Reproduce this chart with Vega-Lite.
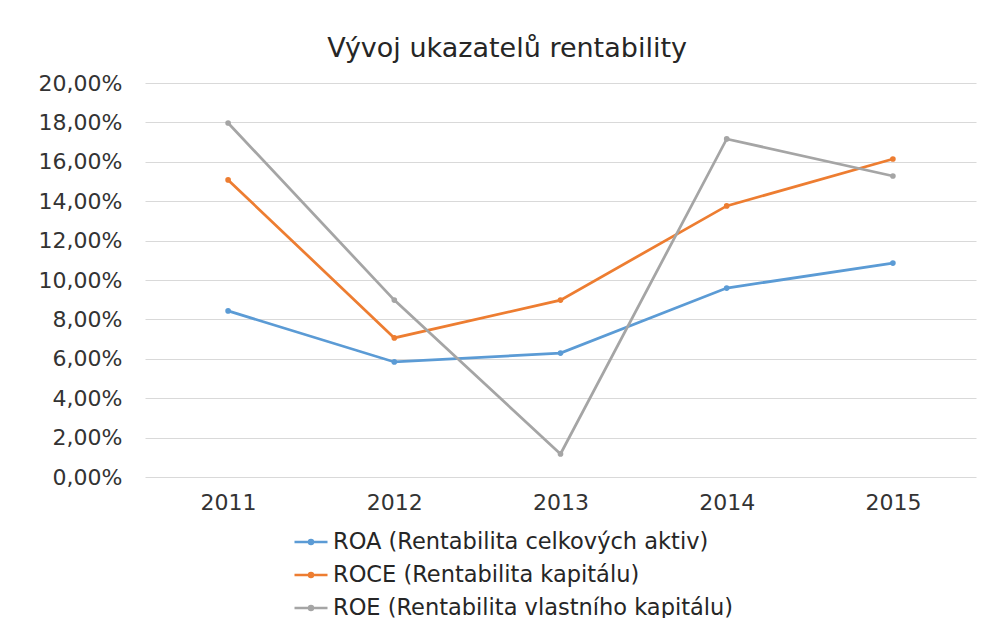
{
  "$schema": "https://vega.github.io/schema/vega-lite/v6.json",
  "width": 831,
  "height": 394,
  "autosize": {"type": "none"},
  "padding": {"left": 145, "top": 83, "right": 5, "bottom": 141},
  "background": "white",
  "title": {
    "text": "Vývoj ukazatelů rentability",
    "font": "DejaVu Sans",
    "fontSize": 27,
    "fontWeight": "normal",
    "color": "#262626",
    "anchor": "middle",
    "frame": "bounds",
    "offset": 9
  },
  "data": {
    "values": [
      {"year": "2011", "series": "ROA (Rentabilita celkových aktiv)", "value": 0.0843},
      {"year": "2012", "series": "ROA (Rentabilita celkových aktiv)", "value": 0.0584},
      {"year": "2013", "series": "ROA (Rentabilita celkových aktiv)", "value": 0.0629},
      {"year": "2014", "series": "ROA (Rentabilita celkových aktiv)", "value": 0.0959},
      {"year": "2015", "series": "ROA (Rentabilita celkových aktiv)", "value": 0.1086},
      {"year": "2011", "series": "ROCE (Rentabilita kapitálu)", "value": 0.1508},
      {"year": "2012", "series": "ROCE (Rentabilita kapitálu)", "value": 0.0706},
      {"year": "2013", "series": "ROCE (Rentabilita kapitálu)", "value": 0.0898},
      {"year": "2014", "series": "ROCE (Rentabilita kapitálu)", "value": 0.1376},
      {"year": "2015", "series": "ROCE (Rentabilita kapitálu)", "value": 0.1614},
      {"year": "2011", "series": "ROE (Rentabilita vlastního kapitálu)", "value": 0.1797},
      {"year": "2012", "series": "ROE (Rentabilita vlastního kapitálu)", "value": 0.0898},
      {"year": "2013", "series": "ROE (Rentabilita vlastního kapitálu)", "value": 0.0117},
      {"year": "2014", "series": "ROE (Rentabilita vlastního kapitálu)", "value": 0.1716},
      {"year": "2015", "series": "ROE (Rentabilita vlastního kapitálu)", "value": 0.1528}
    ]
  },
  "mark": {
    "type": "line",
    "strokeWidth": 2.75,
    "point": {"filled": true, "size": 32}
  },
  "encoding": {
    "x": {
      "field": "year",
      "type": "ordinal",
      "scale": {"type": "point", "padding": 0.5},
      "axis": {
        "title": null,
        "domain": false,
        "ticks": false,
        "grid": false,
        "labelAngle": 0,
        "labelFont": "DejaVu Sans",
        "labelFontSize": 22,
        "labelColor": "#333333",
        "labelPadding": 15
      }
    },
    "y": {
      "field": "value",
      "type": "quantitative",
      "scale": {"domain": [0, 0.2], "nice": false, "zero": true},
      "axis": {
        "title": null,
        "domain": false,
        "ticks": false,
        "values": [0, 0.02, 0.04, 0.06, 0.08, 0.1, 0.12, 0.14, 0.16, 0.18, 0.2],
        "labelExpr": "replace(format(datum.value, '.2%'), '.', ',')",
        "labelFont": "DejaVu Sans",
        "labelFontSize": 22,
        "labelColor": "#333333",
        "labelPadding": 23,
        "grid": true,
        "gridColor": "#d9d9d9",
        "gridWidth": 1
      }
    },
    "color": {
      "field": "series",
      "type": "nominal",
      "scale": {
        "domain": ["ROA (Rentabilita celkových aktiv)", "ROCE (Rentabilita kapitálu)", "ROE (Rentabilita vlastního kapitálu)"],
        "range": ["#5B9BD5", "#ED7D31", "#A5A5A5"]
      },
      "legend": {
        "title": null,
        "orient": "none",
        "legendX": 148,
        "legendY": 441,
        "direction": "vertical",
        "padding": 0,
        "symbolType": "M-1,0L1,0M-0.12,0A0.12,0.12,0,1,0,0.12,0A0.12,0.12,0,1,0,-0.12,0",
        "symbolSize": 1089,
        "symbolStrokeWidth": 2.5,
        "labelFont": "DejaVu Sans",
        "labelFontSize": 22.5,
        "labelColor": "#262626",
        "labelOffset": 4,
        "rowPadding": 3,
        "labelLimit": 600,
        "encode": {
          "symbols": {
            "update": {
              "fill": {"scale": "color", "field": "value"},
              "stroke": {"scale": "color", "field": "value"},
              "strokeWidth": {"value": 2.5}
            }
          }
        }
      }
    }
  },
  "config": {
    "view": {"stroke": null}
  }
}
